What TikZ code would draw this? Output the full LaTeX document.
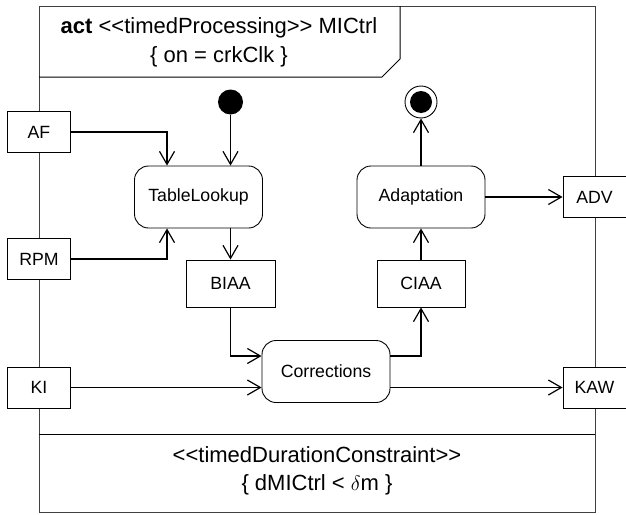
\documentclass[tikz,border=0pt]{standalone}
\usepackage{fontspec}
\setmainfont{Liberation Sans}
\usetikzlibrary{arrows.meta}
\tikzstyle{pin}=[draw, fill=white, line width=0.9pt, minimum width=63, minimum height=41, inner sep=0pt, font=\fontsize{17.7}{20}\selectfont]
\tikzstyle{action}=[draw, line width=0.9pt, rounded corners=14, minimum width=128, minimum height=62, inner sep=0pt, font=\fontsize{17.7}{20}\selectfont]
\tikzstyle{flow}=[line width=1.2pt, -{Straight Barb[length=13, width=15, line width=1.2pt]}]
\tikzstyle{framed}=[line width=1pt, draw=black!75]
\tikzstyle{label}=[inner sep=0pt, font=\fontsize{22}{24}\selectfont]

\begin{document}
\begin{tikzpicture}[x=1pt, y=-1pt]
		\useasboundingbox (0, 0) rectangle (626, 514);
		\draw[framed] (39, 6) rectangle (595, 512);
		\draw[line width=1pt] (39, 434) -- (595, 434);
		\draw[line width=1pt] (39, 77) -- (382, 77) -- (400, 59) -- (400, 6);
		\node(hdrA)[label] at (219, 28) {\textbf{act} <{}<timedProcessing>{}> MICtrl};
		\node(hdrB)[label] at (219, 57) {\{ on = crkClk \}};
		\node(consA)[label] at (317, 455) {<{}<timedDurationConstraint>{}>};
		\node(consB)[label] at (317, 485) {\{ dMICtrl < $\delta$m \}};

		\node(AF)[pin] at (39, 132) {AF};
		\node(RPM)[pin] at (39, 259) {RPM};
		\node(KI)[pin] at (39, 387.5) {KI};
		\node(ADV)[pin] at (594.5, 197) {ADV};
		\node(KAW)[pin] at (594.5, 387.5) {KAW};

		\node(lookup)[action] at (198.5, 197) {TableLookup};
		\node(adapt)[action] at (421, 197) {Adaptation};
		\node(corr)[action] at (326, 371.5) {Corrections};
		\node(BIAA)[pin, minimum width=89, minimum height=47] at (230.5, 283.5) {BIAA};
		\node(CIAA)[pin, minimum width=88, minimum height=47] at (421, 283.5) {CIAA};

		\node(start)[circle, fill=black, minimum size=25, inner sep=0pt] at (230.5, 102) {};
		\node(stop)[circle, draw, line width=0.9pt, minimum size=32, inner sep=0pt] at (421, 102) {};
		\node(stopdot)[circle, fill=black, minimum size=22, inner sep=0pt] at (stop) {};

		\coordinate(inAF) at (167, 132);
		\coordinate(inRPM) at (167, 259);
		\coordinate(inB) at (230.5, 356);
		\coordinate(outC) at (421, 356);
		\draw[flow] (AF.east) -- (inAF) -- (inAF |- lookup.north);
		\draw[flow] (RPM.east) -- (inRPM) -- (inRPM |- lookup.south);
		\draw[flow] (start) -- (start |- lookup.north);
		\draw[flow] (BIAA.north |- lookup.south) -- (BIAA.north);
		\draw[flow] (BIAA.south) -- (inB) -- (inB -| corr.west);
		\draw[flow] (KI.east) -- (KI.east -| corr.west);
		\draw[flow] (outC -| corr.east) -- (outC) -- (CIAA.south);
		\draw[flow] (corr.east |- KAW.west) -- (KAW.west);
		\draw[flow] (CIAA.north) -- (adapt.south);
		\draw[flow] (adapt.north) -- (stop.south);
		\draw[flow] (adapt.east) -- (ADV.west);
\end{tikzpicture}
\end{document}
